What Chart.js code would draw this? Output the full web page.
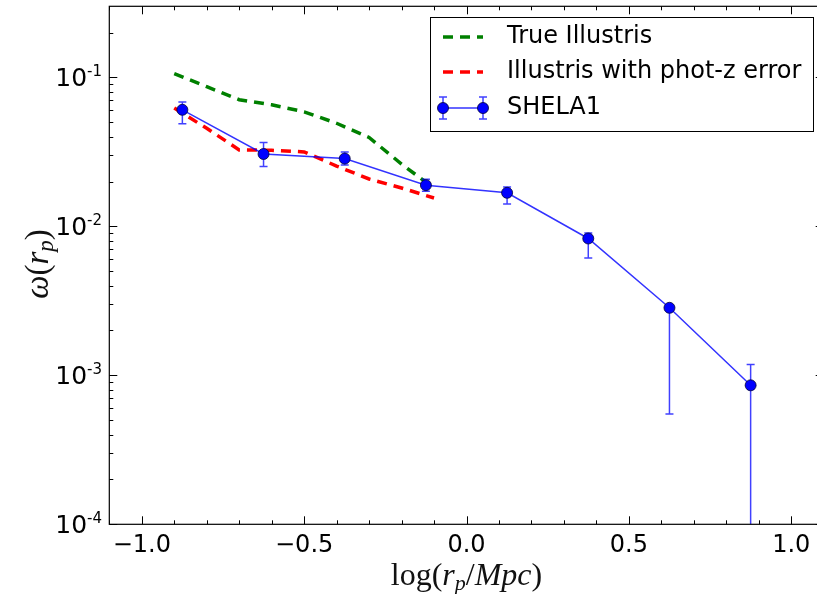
<!DOCTYPE html>
<html>
<head>
<meta charset="utf-8">
<script src="https://cdn.jsdelivr.net/npm/chart.js@4.4.0/dist/chart.umd.min.js"></script>
<style>
html, body { margin: 0; padding: 0; background: #fff; overflow: hidden; }
#wrap { width: 830px; height: 594px; }
</style>
</head>
<body>
<div id="wrap"><canvas id="chart" width="830" height="594"></canvas></div>
<script>
// SHELA1 measurements
const shelaX = [-0.875, -0.625, -0.375, -0.125, 0.125, 0.375, 0.625, 0.875];
const shelaW = [0.0606, 0.0306, 0.0285, 0.0189, 0.0168, 0.00829, 0.00284, 0.000857];
const shelaHi = [0.0683, 0.0365, 0.0316, 0.0207, 0.0184, 0.00904, 0.00295, 0.00118];
const shelaLo = [0.0488, 0.0252, 0.0258, 0.0172, 0.0141, 0.00614, 0.00055, 0.00001];

// Illustris curves
const illX = [-0.9, -0.8, -0.7, -0.6, -0.5, -0.4, -0.3, -0.2, -0.1];
const trueIll = [0.106, 0.0866, 0.0708, 0.0655, 0.0587, 0.0492, 0.0395, 0.0262, 0.0180];
const photzIll = [0.0622, 0.0455, 0.0326, 0.0324, 0.0316, 0.0254, 0.0208, 0.0181, 0.0155];

// tick labels
const xTickValues = [-1.0, -0.5, 0.0, 0.5, 1.0];
const xTickLabels = ['\u22121.0', '\u22120.5', '0.0', '0.5', '1.0'];
const yTickExponents = [-1, -2, -3, -4];

const SANS = '"DejaVu Sans", sans-serif';
const SERIF = '"Liberation Serif", serif';

const toPoints = (xs, ys) => xs.map((v, i) => ({ x: v, y: ys[i] }));

// draws a list of text runs with different fonts, centred on x
function drawRuns(ctx, runs, x, y) {
    let total = 0;
    runs.forEach(r => { ctx.font = r.f; total += ctx.measureText(r.t).width; });
    let cx = x - total / 2;
    runs.forEach(r => {
        ctx.font = r.f;
        ctx.fillText(r.t, cx, y + (r.dy || 0));
        cx += ctx.measureText(r.t).width;
    });
}

// error bars under the SHELA1 line
const errorBars = {
    id: 'errorBars',
    beforeDatasetDraw(chart, args) {
        if (args.index !== 0) return;
        const { ctx, chartArea: a, scales: { x, y } } = chart;
        ctx.save();
        ctx.beginPath();
        ctx.rect(a.left, a.top, a.width, a.height);
        ctx.clip();
        ctx.strokeStyle = 'rgba(0, 0, 255, 0.75)';
        ctx.lineWidth = 1.5;
        shelaX.forEach((v, i) => {
            const px = x.getPixelForValue(v);
            const top = y.getPixelForValue(shelaHi[i]);
            const bot = y.getPixelForValue(shelaLo[i]);
            ctx.beginPath();
            ctx.moveTo(px, top); ctx.lineTo(px, bot);
            ctx.moveTo(px - 4, top); ctx.lineTo(px + 4, top);
            ctx.moveTo(px - 4, bot); ctx.lineTo(px + 4, bot);
            ctx.stroke();
        });
        ctx.restore();
    }
};

// frame, inward ticks, labels, titles and legend
const frame = {
    id: 'frame',
    afterDraw(chart) {
        const { ctx, chartArea: a, scales: { x, y } } = chart;
        ctx.save();
        ctx.strokeStyle = '#000';
        ctx.lineWidth = 1.2;
        ctx.strokeRect(a.left, a.top, a.width, a.height);

        ctx.lineWidth = 1;
        ctx.beginPath();
        for (let i = -11; i <= 11; i++) {
            const px = Math.round(x.getPixelForValue(i / 10)) + 0.5;
            const len = i % 5 === 0 ? 8 : 4;
            ctx.moveTo(px, a.bottom); ctx.lineTo(px, a.bottom - len);
            ctx.moveTo(px, a.top); ctx.lineTo(px, a.top + len);
        }
        for (let e = -4; e <= -1; e++) {
            for (let k = 1; k <= 9; k++) {
                const v = k * Math.pow(10, e);
                if (v > y.max) break;
                const py = Math.round(y.getPixelForValue(v)) + 0.5;
                const len = k === 1 ? 8 : 4;
                ctx.moveTo(a.left, py); ctx.lineTo(a.left + len, py);
                ctx.moveTo(a.right, py); ctx.lineTo(a.right - len, py);
            }
        }
        ctx.stroke();

        ctx.fillStyle = '#000';
        ctx.textBaseline = 'alphabetic';
        ctx.textAlign = 'center';
        ctx.font = '24px ' + SANS;
        xTickValues.forEach((v, i) => {
            ctx.fillText(xTickLabels[i], x.getPixelForValue(v), 552);
        });

        ctx.textAlign = 'right';
        yTickExponents.forEach(e => {
            const py = y.getPixelForValue(Math.pow(10, e));
            ctx.font = '15px ' + SANS;
            const sup = String(e);
            const sw = ctx.measureText(sup).width;
            ctx.fillText(sup, 102, py - 1);
            ctx.font = '25px ' + SANS;
            ctx.fillText('10', 102 - sw, py + 9);
        });

        // axis titles
        ctx.textAlign = 'left';
        ctx.fillStyle = '#111';
        drawRuns(ctx, [
            { t: 'log(', f: '32px ' + SERIF },
            { t: 'r', f: 'italic 32px ' + SERIF },
            { t: 'p', f: 'italic 22px ' + SERIF, dy: 5 },
            { t: '/', f: '32px ' + SERIF },
            { t: 'Mpc', f: 'italic 32px ' + SERIF },
            { t: ')', f: '32px ' + SERIF }
        ], (a.left + a.right) / 2, 585);

        ctx.save();
        ctx.translate(48, 264);
        ctx.rotate(-Math.PI / 2);
        drawRuns(ctx, [
            { t: '\u03c9', f: 'italic 33px ' + SERIF },
            { t: '(', f: '33px ' + SERIF },
            { t: 'r', f: 'italic 33px ' + SERIF },
            { t: 'p', f: 'italic 23px ' + SERIF, dy: 5 },
            { t: ')', f: '33px ' + SERIF }
        ], 0, 0);
        ctx.restore();

        // legend
        ctx.fillStyle = '#fff';
        ctx.fillRect(430, 17, 383, 114);
        ctx.strokeStyle = '#000';
        ctx.lineWidth = 1;
        ctx.strokeRect(430.5, 17.5, 383, 114);

        const rows = [37, 72, 108];
        const order = [1, 2, 0];
        order.forEach((di, r) => {
            const ds = chart.data.datasets[di];
            const ry = rows[r];
            ctx.strokeStyle = ds.borderColor;
            ctx.lineWidth = ds.borderWidth;
            if (di === 0) {
                ctx.setLineDash([]);
                ctx.beginPath();
                ctx.moveTo(443, ry); ctx.lineTo(483, ry);
                ctx.stroke();
                [443, 483].forEach(px => {
                    ctx.strokeStyle = 'rgba(0, 0, 255, 0.75)';
                    ctx.lineWidth = 1.5;
                    ctx.beginPath();
                    ctx.moveTo(px, ry - 11); ctx.lineTo(px, ry + 11);
                    ctx.moveTo(px - 4, ry - 11); ctx.lineTo(px + 4, ry - 11);
                    ctx.moveTo(px - 4, ry + 11); ctx.lineTo(px + 4, ry + 11);
                    ctx.stroke();
                    ctx.beginPath();
                    ctx.arc(px, ry, ds.pointRadius, 0, Math.PI * 2);
                    ctx.fillStyle = ds.pointBackgroundColor;
                    ctx.fill();
                    ctx.strokeStyle = ds.pointBorderColor;
                    ctx.lineWidth = ds.pointBorderWidth;
                    ctx.stroke();
                });
            } else {
                ctx.setLineDash(ds.borderDash);
                ctx.beginPath();
                ctx.moveTo(443, ry); ctx.lineTo(483, ry);
                ctx.stroke();
                ctx.setLineDash([]);
            }
            ctx.fillStyle = '#000';
            ctx.font = '24px ' + SANS;
            ctx.textAlign = 'left';
            ctx.textBaseline = 'middle';
            ctx.fillText(ds.label, 507, ry);
        });
        ctx.restore();
    }
};

const ctx = document.getElementById('chart').getContext('2d');

new Chart(ctx, {
    type: 'line',
    data: {
        datasets: [
            {
                label: 'SHELA1',
                data: toPoints(shelaX, shelaW),
                borderColor: 'rgba(0, 0, 255, 0.8)',
                borderWidth: 1.5,
                pointRadius: 5.5,
                pointBackgroundColor: '#0000ff',
                pointBorderColor: '#000033',
                pointBorderWidth: 0.8,
                tension: 0
            },
            {
                label: 'True Illustris',
                data: toPoints(illX, trueIll),
                borderColor: '#008000',
                borderWidth: 3.5,
                borderDash: [10, 7],
                pointRadius: 0,
                tension: 0
            },
            {
                label: 'Illustris with phot-z error',
                data: toPoints(illX, photzIll),
                borderColor: '#ff0000',
                borderWidth: 3.5,
                borderDash: [10, 7],
                pointRadius: 0,
                tension: 0
            }
        ]
    },
    options: {
        responsive: false,
        animation: false,
        events: [],
        layout: {
            padding: { left: 109.3, top: 6, right: 5.8, bottom: 69.7 }
        },
        plugins: {
            legend: { display: false },
            title: { display: false },
            tooltip: { enabled: false }
        },
        scales: {
            x: {
                type: 'linear',
                min: -1.1,
                max: 1.1,
                display: false
            },
            y: {
                type: 'logarithmic',
                min: 1e-4,
                max: 0.3,
                display: false
            }
        }
    },
    plugins: [errorBars, frame]
});
</script>
</body>
</html>
